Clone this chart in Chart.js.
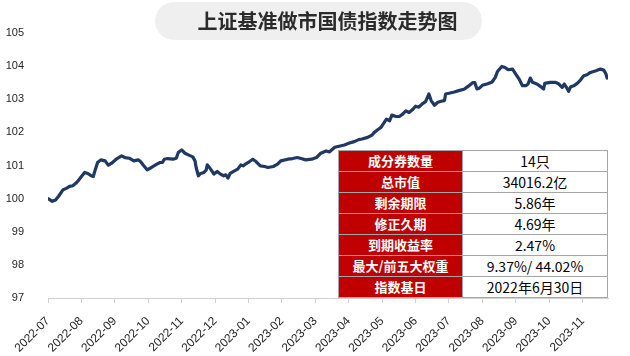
<!DOCTYPE html>
<html><head><meta charset="utf-8">
<script src="https://cdn.jsdelivr.net/npm/chart.js@4.4.0/dist/chart.umd.min.js"></script>
<style>
html,body{margin:0;padding:0;background:#fff;}
#wrap{position:relative;width:630px;height:356px;overflow:hidden;}
#pill{position:absolute;left:155px;top:2px;width:327px;height:38px;border-radius:19px;background:#efefef;}
#title{position:absolute;left:150px;top:2px;width:355px;height:38px;line-height:38px;text-align:center;font-family:"Noto Sans CJK SC",sans-serif;font-weight:bold;font-size:20px;color:#2b2b2b;white-space:nowrap;}
#info{position:absolute;left:338px;top:150px;border-collapse:collapse;width:270px;table-layout:fixed;background:#fff;}
#info td{height:20px;padding:0;text-align:center;font-size:14px;line-height:20px;border:1px solid #a6a6a6;font-family:"Noto Sans CJK SC",sans-serif;color:#000;white-space:nowrap;overflow:hidden;}
#info td.k{background:#c00000;color:#fff;font-weight:bold;font-size:13px;width:123px;}
canvas{position:absolute;left:0;top:0;}
</style></head>
<body>
<div id="wrap">
<canvas id="c" width="630" height="356"></canvas>
<div id="pill"></div>
<div id="title">上证基准做市国债指数走势图</div>
<table id="info"></table>
</div>
<script>
const chartTitle = '上证基准做市国债指数走势图';
const monthLabels = ['2022-07','2022-08','2022-09','2022-10','2022-11','2022-12','2023-01','2023-02','2023-03','2023-04','2023-05','2023-06','2023-07','2023-08','2023-09','2023-10','2023-11'];
const yTicks = [97, 98, 99, 100, 101, 102, 103, 104, 105];
const infoLabels = ['成分券数量','总市值','剩余期限','修正久期','到期收益率','最大/前五大权重','指数基日'];
const infoValues = ['14只','34016.2亿','5.86年','4.69年','2.47%','9.37%/ 44.02%','2022年6月30日'];

const tradeDates = [
'2022-07-01','2022-07-05','2022-07-08','2022-07-11','2022-07-15','2022-07-18','2022-07-21','2022-07-24','2022-07-27','2022-07-29',
'2022-08-01','2022-08-04','2022-08-07','2022-08-10','2022-08-12','2022-08-14','2022-08-16','2022-08-19','2022-08-23','2022-08-26','2022-08-29',
'2022-09-03','2022-09-07','2022-09-10','2022-09-14','2022-09-18','2022-09-22','2022-09-24','2022-09-27','2022-09-30',
'2022-10-04','2022-10-09','2022-10-12','2022-10-14','2022-10-16','2022-10-19','2022-10-24','2022-10-27','2022-10-29',
'2022-11-01','2022-11-04','2022-11-07','2022-11-11','2022-11-13','2022-11-14','2022-11-16','2022-11-18','2022-11-21','2022-11-23','2022-11-24','2022-11-27','2022-11-30',
'2022-12-03','2022-12-06','2022-12-09','2022-12-11','2022-12-13','2022-12-15','2022-12-19','2022-12-22','2022-12-25','2022-12-27','2022-12-30',
'2023-01-02','2023-01-05','2023-01-08','2023-01-12','2023-01-16','2023-01-19','2023-01-24','2023-01-28','2023-01-31',
'2023-02-06','2023-02-10','2023-02-14','2023-02-17','2023-02-21','2023-02-26',
'2023-03-02','2023-03-06','2023-03-11','2023-03-14','2023-03-19','2023-03-23','2023-03-28',
'2023-04-01','2023-04-06','2023-04-10','2023-04-13','2023-04-18','2023-04-22','2023-04-24','2023-04-27','2023-04-30',
'2023-05-03','2023-05-05','2023-05-08','2023-05-10','2023-05-14','2023-05-17','2023-05-20','2023-05-23','2023-05-26','2023-05-29',
'2023-06-01','2023-06-04','2023-06-07','2023-06-10','2023-06-13','2023-06-15','2023-06-18','2023-06-21','2023-06-24','2023-06-27','2023-06-28',
'2023-07-01','2023-07-06','2023-07-10','2023-07-15','2023-07-20','2023-07-23','2023-07-25','2023-07-27','2023-07-29',
'2023-08-01','2023-08-06','2023-08-10','2023-08-13','2023-08-15','2023-08-19','2023-08-22','2023-08-25','2023-08-29',
'2023-09-01','2023-09-04','2023-09-07','2023-09-10','2023-09-12','2023-09-14','2023-09-16','2023-09-20','2023-09-23','2023-09-26','2023-09-27',
'2023-10-02','2023-10-07','2023-10-10','2023-10-13','2023-10-15','2023-10-17','2023-10-19','2023-10-21','2023-10-24','2023-10-27','2023-10-30',
'2023-11-02','2023-11-05','2023-11-08','2023-11-13','2023-11-17','2023-11-20','2023-11-22','2023-11-23'
];
const indexValues = [
100.00,99.92,99.96,100.08,100.27,100.31,100.37,100.39,100.47,100.54,
100.67,100.79,100.76,100.69,100.67,100.89,101.09,101.17,101.14,101.01,101.07,
101.21,101.29,101.24,101.22,101.14,101.17,101.12,100.99,100.87,
100.94,101.04,101.09,101.09,101.19,101.21,101.19,101.22,101.40,
101.47,101.37,101.32,101.26,101.14,100.94,100.69,100.76,100.79,100.86,101.02,100.89,100.74,
100.82,100.74,100.69,100.72,100.62,100.76,100.84,100.89,101.02,100.99,101.06,
101.12,101.19,101.12,100.99,100.97,100.94,100.97,101.04,101.14,
101.19,101.21,101.24,101.21,101.17,101.19,
101.24,101.37,101.44,101.41,101.55,101.58,101.62,
101.67,101.72,101.78,101.80,101.85,101.92,102.00,102.08,102.15,
102.30,102.40,102.35,102.52,102.48,102.48,102.55,102.65,102.60,102.68,
102.79,102.76,102.86,102.93,103.16,102.96,102.82,102.91,102.94,102.96,103.16,
103.18,103.22,103.26,103.30,103.42,103.50,103.50,103.31,103.33,
103.42,103.47,103.52,103.66,103.84,103.99,103.96,103.89,103.91,
103.76,103.61,103.41,103.41,103.46,103.64,103.51,103.46,103.39,103.31,103.48,
103.51,103.51,103.46,103.36,103.46,103.36,103.24,103.38,103.41,103.48,103.58,
103.71,103.74,103.81,103.86,103.91,103.88,103.76,103.64
];

document.getElementById('title').textContent = chartTitle;
const tbl = document.getElementById('info');
infoLabels.forEach((k, i) => {
  const tr = document.createElement('tr');
  const a = document.createElement('td'); a.className = 'k'; a.textContent = k;
  const b = document.createElement('td'); b.textContent = infoValues[i];
  tr.appendChild(a); tr.appendChild(b); tbl.appendChild(tr);
});

function monthPos(d) {
  const [y, m, dd] = d.split('-').map(Number);
  const dim = new Date(y, m, 0).getDate();
  return (y - 2022) * 12 + (m - 7) + (dd - 1) / dim;
}
const points = tradeDates.map((d, i) => ({x: monthPos(d), y: indexValues[i]}));
const yFont = {family: '"Liberation Sans", Arial, sans-serif', size: 11};
const xFont = {family: '"Liberation Sans", Arial, sans-serif', size: 12};

new Chart(document.getElementById('c'), {
  type: 'line',
  data: {datasets: [{
    data: points, borderColor: '#1f3864', borderWidth: 3.2, pointRadius: 0,
    tension: 0, borderJoinStyle: 'round', borderCapStyle: 'round', fill: false
  }]},
  options: {
    responsive: false, animation: false, devicePixelRatio: 1,
    layout: {padding: {left: 0, top: 33, right: 22, bottom: 0}},
    plugins: {legend: {display: false}, tooltip: {enabled: false}, title: {display: false}},
    scales: {
      x: {
        type: 'linear', min: 0, max: 16.76,
        afterFit: s => { s.height = 58; },
        grid: {display: true, drawOnChartArea: false, drawTicks: true, tickLength: 5, color: '#d0d0d0'},
        border: {display: true, color: '#d0d0d0'},
        ticks: {
          stepSize: 1, autoSkip: false, includeBounds: false, minRotation: 45, maxRotation: 45,
          padding: 11, color: '#262626', font: xFont,
          callback: v => Number.isInteger(v) ? (monthLabels[v] || '') : ''
        }
      },
      y: {
        min: yTicks[0], max: yTicks[yTicks.length - 1],
        afterFit: s => { s.width = 48; },
        grid: {display: false},
        border: {display: false},
        ticks: {stepSize: 1, padding: 16, color: '#262626', font: yFont}
      }
    }
  }
});
</script>
</body></html>
